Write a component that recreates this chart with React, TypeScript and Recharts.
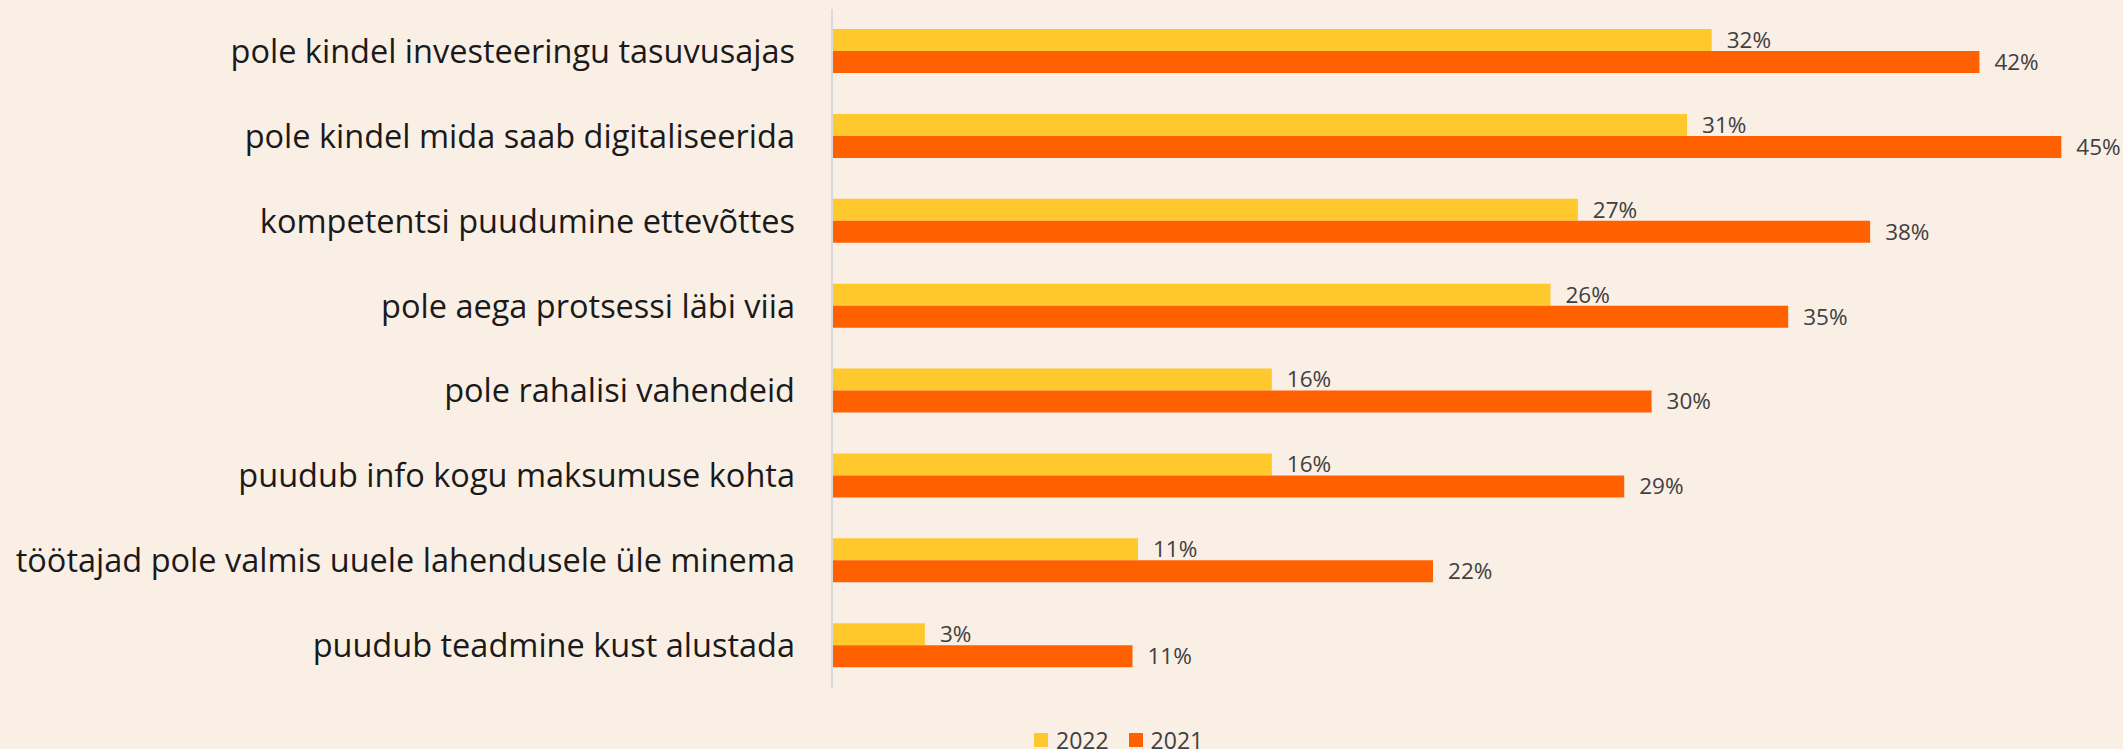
import React from "react";
import { BarChart, Bar, XAxis, YAxis, LabelList, Legend } from "recharts";

const categories = [
  "pole kindel investeeringu tasuvusajas",
  "pole kindel mida saab digitaliseerida",
  "kompetentsi puudumine ettevõttes",
  "pole aega protsessi läbi viia",
  "pole rahalisi vahendeid",
  "puudub info kogu maksumuse kohta",
  "töötajad pole valmis uuele lahendusele üle minema",
  "puudub teadmine kust alustada",
];
const values2022 = [32.2, 31.3, 27.3, 26.3, 16.1, 16.1, 11.2, 3.4];
const values2021 = [42, 45, 38, 35, 30, 29, 22, 11];
const seriesNames = ["2022", "2021"];
const seriesColors = ["#FFC82C", "#FF6100"];

const data = categories.map((name, i) => ({
  name,
  y2022: values2022[i],
  y2021: values2021[i],
}));

const BG = "#FAEFE5";
const FONT = "'Open Sans', sans-serif";

const fmt = (v: any) => `${Math.round(Number(v))}%`;

const LegendContent = () => (
  <div
    style={{
      display: "flex",
      alignItems: "flex-start",
      fontFamily: FONT,
      fontSize: 23,
      lineHeight: "23px",
      color: "#404040",
      whiteSpace: "nowrap",
    }}
  >
    {seriesNames.map((n, i) => (
      <div key={n} style={{ display: "flex", alignItems: "flex-start", marginRight: i === 0 ? 20 : 0 }}>
        <div style={{ width: 14, height: 14, background: seriesColors[i], marginTop: 4, marginRight: 8 }} />
        <span>{n}</span>
      </div>
    ))}
  </div>
);

export default function App() {
  return (
    <div style={{ position: "absolute", left: 0, top: 0, width: 2123, height: 749, background: BG, overflow: "hidden" }}>
      <style>{"body{margin:0;}"}</style>
      <BarChart
        width={2123}
        height={749}
        data={data}
        layout="vertical"
        margin={{ top: 9, right: 7, bottom: 61, left: 0 }}
        barGap={0}
      >
        <XAxis type="number" domain={[0, 47]} hide />
        <YAxis
          type="category"
          dataKey="name"
          width={832}
          tickSize={0}
          tickMargin={37}
          tickLine={false}
          axisLine={{ stroke: "#D9D9D9", strokeWidth: 2 }}
          tick={{ fontFamily: FONT, fontSize: 32.5, fill: "#1A1A1A" }}
          interval={0}
        />
        <Legend
          layout="horizontal"
          verticalAlign="middle"
          align="center"
          content={<LegendContent />}
          wrapperStyle={{ left: 1034, top: 729, width: "auto", height: "auto" }}
        />
        <Bar dataKey="y2022" name={seriesNames[0]} fill={seriesColors[0]} barSize={22} isAnimationActive={false}>
          <LabelList
            dataKey="y2022"
            position="right"
            offset={15}
            formatter={fmt}
            style={{ fontFamily: FONT, fontSize: 22.5, fill: "#404040" }}
          />
        </Bar>
        <Bar dataKey="y2021" name={seriesNames[1]} fill={seriesColors[1]} barSize={22} isAnimationActive={false}>
          <LabelList
            dataKey="y2021"
            position="right"
            offset={15}
            formatter={fmt}
            style={{ fontFamily: FONT, fontSize: 22.5, fill: "#404040" }}
          />
        </Bar>
      </BarChart>
    </div>
  );
}
